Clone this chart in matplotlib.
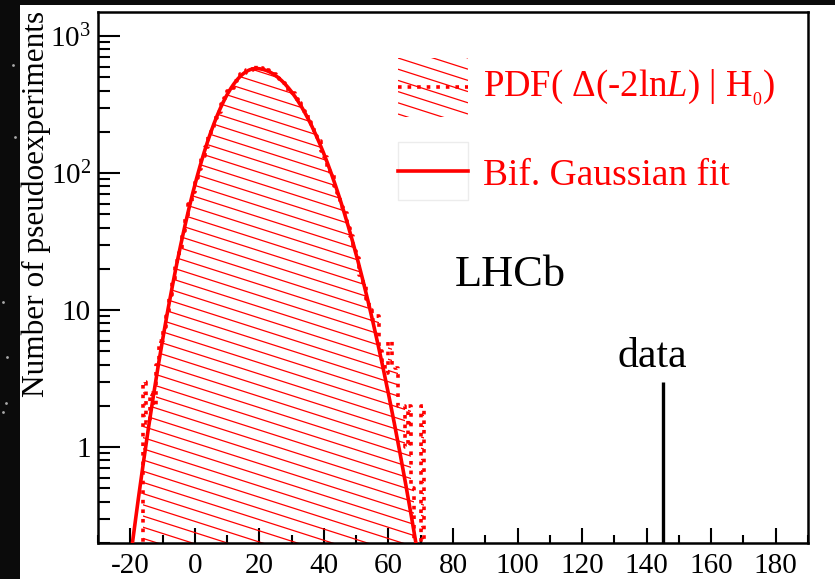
import numpy as np
import matplotlib
matplotlib.use('Agg')
import matplotlib.pyplot as plt
from matplotlib.collections import LineCollection
from matplotlib.patches import Polygon, Rectangle
from matplotlib.lines import Line2D
from matplotlib.ticker import MultipleLocator, FixedLocator, NullFormatter

plt.rcParams['font.family'] = 'Liberation Serif'
plt.rcParams['mathtext.fontset'] = 'custom'
plt.rcParams['mathtext.rm'] = 'Liberation Serif'
plt.rcParams['mathtext.it'] = 'Liberation Serif:italic'
plt.rcParams['axes.unicode_minus'] = False

###########
# DATA
###########
# histogram of pseudoexperiments, bins of width 1 starting at -30
bin_start = -30
bin_width = 1
counts = [0, 0, 0, 0, 0, 0, 0, 0, 0, 0, 0, 0, 0, 0,
          3.0, 1.5, 2.5, 2.0, 4.0, 6.0, 7.5, 9.0, 13, 16.5,
          23, 28, 38, 46, 60, 73, 92, 108, 134, 155,
          188, 213, 252, 279, 322, 352, 398, 420, 468, 488,
          530, 538, 566, 570, 612, 575, 585, 560, 562, 535,
          530, 498, 490, 452, 440, 398, 382, 345, 326, 285,
          270, 236, 218, 186, 171, 145, 132, 109, 98, 80,
          72, 57, 51, 40, 35, 27, 24, 18, 15.5, 12,
          10, 8.5, 9.0, 5.0, 4.0, 3.5, 6.0, 4.0, 3.8, 2.0,
          2.0, 1.0, 2.0, 0.5, 0, 0, 2.0, 0]

# bifurcated gaussian fit
fit_mean = 19.0
fit_peak = 580.0
fit_sigma_left = 9.6
fit_sigma_right = 12.4

# observed value
data_value = 145.0
data_height = 3.0

x_ticks_major = 20
x_ticks_minor = 10
y_tick_values = [1, 10, 100, 1000]
y_tick_labels = ['1', '10', r'$10^{2}$', r'$10^{3}$']

###########
# FIGURE
###########
W, H = 835, 579
def fx(x):
    return x / W
def fy(y):
    return 1 - y / H

def hatch_segments(x0, x1, y0, y1, step=11.2, slope=0.32):
    # shallow "\\" hatch lines in figure pixels (y down), returned in figure fraction
    segs = []
    b = y0 - slope * (x1 - x0)
    while b < y1:
        segs.append([(fx(x0), fy(b)), (fx(x1), fy(b + slope * (x1 - x0)))])
        b += step
    return segs

fig = plt.figure(figsize=(W / 100, H / 100), dpi=100)
ax = fig.add_axes([fx(98), fy(543), (808 - 98) / W, (543 - 12) / H])
ax.set_yscale('log')

# histogram outline
counts = np.array(counts, dtype=float)
edges = bin_start + bin_width * np.arange(len(counts) + 1)
floor = 1e-2
vals = np.where(counts > 0, counts, floor)
xs = np.concatenate([[edges[0]], np.repeat(edges, 2)[1:-1], [edges[-1]]])
ys = np.concatenate([[floor], np.repeat(vals, 2), [floor]])

poly = Polygon(np.column_stack([xs, ys]), closed=True, transform=ax.transData,
               facecolor='none', edgecolor='none')
ax.add_patch(poly)
hatch = LineCollection(hatch_segments(98, 808, 12, 543), colors='red',
                       linewidths=0.9, transform=fig.transFigure)
hatch.set_clip_path(poly)
hatch.set_clip_box(ax.bbox)
ax.add_collection(hatch, autolim=False)

ax.plot(xs, ys, color='red', lw=2.6, ls=':', zorder=3)

# fit
xf = np.linspace(-25, 75, 600)
sig = np.where(xf < fit_mean, fit_sigma_left, fit_sigma_right)
yf = fit_peak * np.exp(-(xf - fit_mean) ** 2 / (2 * sig ** 2))
ax.plot(xf, yf, color='red', lw=2.6, zorder=4)

# data line
ax.vlines(data_value, floor, data_height, color='black', lw=2.4, zorder=5)

ax.set_xlim(-30, 190)
ax.set_ylim(0.2, 1500)

# Formatting
for s in ax.spines.values():
    s.set_linewidth(1.8)
ax.xaxis.set_major_locator(MultipleLocator(x_ticks_major))
ax.xaxis.set_minor_locator(MultipleLocator(x_ticks_minor))
ax.yaxis.set_major_locator(FixedLocator(y_tick_values))
ax.set_yticklabels(y_tick_labels)
minor_y = [m * 10.0 ** e for e in range(-1, 3) for m in range(2, 10)]
ax.yaxis.set_minor_locator(FixedLocator(minor_y))
ax.yaxis.set_minor_formatter(NullFormatter())
ax.tick_params(which='both', direction='in', top=False, right=False, width=1.5,
               labelsize=21, colors='black')
ax.tick_params(axis='x', which='major', length=11, pad=7)
ax.tick_params(axis='x', which='minor', length=5.5)
ax.tick_params(axis='y', which='major', length=16, pad=5)
ax.tick_params(axis='y', which='minor', length=8.5)

fig.text(fx(36), fy(11), 'Number of pseudoexperiments', rotation=90,
         ha='center', va='top', fontsize=22.5)

# texts
fig.text(fx(455), fy(286), 'LHCb', ha='left', va='baseline', fontsize=32)
fig.text(fx(652), fy(367), 'data', ha='center', va='baseline', fontsize=30)

# legend
box1 = Rectangle((fx(398), fy(117)), 70 / W, 59 / H, transform=fig.transFigure,
                 facecolor='none', edgecolor='none')
fig.add_artist(box1)
leg_hatch = LineCollection(hatch_segments(398, 468, 58, 117), colors='red',
                           linewidths=0.9, transform=fig.transFigure)
leg_hatch.set_clip_path(box1)
fig.add_artist(leg_hatch)
fig.add_artist(Line2D([fx(398), fx(468)], [fy(87), fy(87)], color='red', lw=2.6, ls=':'))
fig.text(fx(483), fy(97), r'PDF( $\Delta$(-2ln$\mathit{L}$) | H$_{_0}$)', color='red',
         ha='left', va='baseline', fontsize=26.5)

fig.add_artist(Rectangle((fx(398), fy(200)), 70 / W, 58 / H, transform=fig.transFigure,
                         facecolor='none', edgecolor='#ececec', lw=1))
fig.add_artist(Line2D([fx(398), fx(468)], [fy(171), fy(171)], color='red', lw=2.6))
fig.text(fx(483), fy(185), 'Bif. Gaussian fit', color='red',
         ha='left', va='baseline', fontsize=27)

# dark border of the screenshot
fig.add_artist(Rectangle((0, 0), 20 / W, 1, transform=fig.transFigure,
                         facecolor='#0b0b0b', edgecolor='none'))
fig.add_artist(Rectangle((0, fy(5)), 1, 5 / H, transform=fig.transFigure,
                         facecolor='#0b0b0b', edgecolor='none'))
stars_x = [13, 15, 7, 3, 6, 3]
stars_y = [65, 137, 357, 412, 403, 302]
fig.add_artist(Line2D([fx(v) for v in stars_x], [fy(v) for v in stars_y], ls='none',
                      marker='o', markersize=2, color='#aaaaaa', markeredgewidth=0))

fig.savefig('out.png', dpi=100)
